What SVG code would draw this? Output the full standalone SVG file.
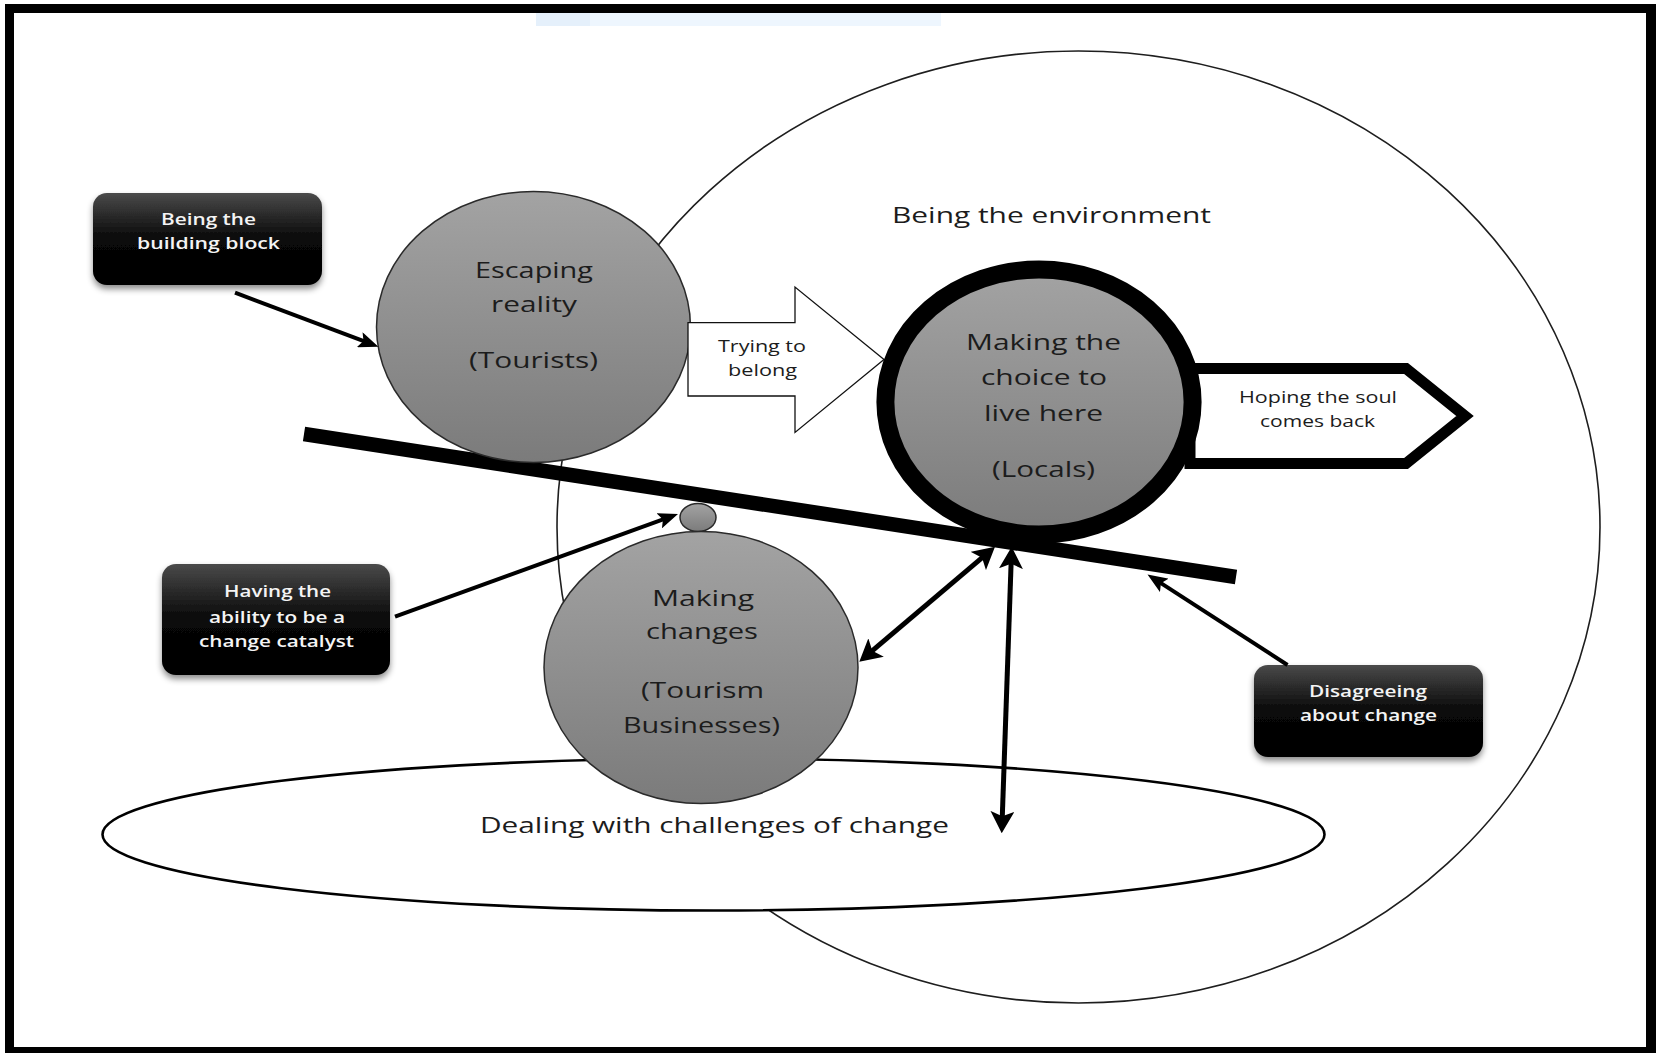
<svg xmlns="http://www.w3.org/2000/svg" width="1656" height="1053" viewBox="0 0 1656 1053">
  <defs>
    <linearGradient id="ballFill" x1="0" y1="0" x2="0" y2="1">
      <stop offset="0" stop-color="#a3a3a3"/>
      <stop offset="1" stop-color="#7b7b7b"/>
    </linearGradient>
    <linearGradient id="tagFill" x1="0" y1="0" x2="0" y2="1">
      <stop offset="0" stop-color="#4a4a4a"/>
      <stop offset="0.5" stop-color="#080808"/>
      <stop offset="1" stop-color="#000"/>
    </linearGradient>
    <filter id="tagShadow" x="-10%" y="-10%" width="120%" height="140%">
      <feDropShadow dx="0" dy="4" stdDeviation="3" flood-color="#000" flood-opacity="0.45"/>
    </filter>
    <marker id="headSmall" viewBox="0 0 20 16" refX="10" refY="8" markerWidth="20" markerHeight="16" markerUnits="userSpaceOnUse" orient="auto-start-reverse">
      <path d="M0,0 L20,8 L0,16 L4,8 z" fill="#000"/>
    </marker>
    <marker id="headBig" viewBox="0 0 22 24" refX="11" refY="12" markerWidth="22" markerHeight="24" markerUnits="userSpaceOnUse" orient="auto-start-reverse">
      <path d="M0,0 L22,12 L0,24 L5,12 z" fill="#000"/>
    </marker>
    <style>
      .ball { fill: url(#ballFill); stroke: #2a2a2a; stroke-width: 1.5; }
      .lbl { font-family: "Open Sans", "Noto Sans", sans-serif; font-size: 22px; fill: #1c1c1c; }
      .small { font-size: 16px; }
      .mid { font-size: 17px; }
      .tag { fill: url(#tagFill); filter: url(#tagShadow); }
      .tagtxt { font-family: "Open Sans", "Noto Sans", sans-serif; font-weight: 600; font-size: 17px; fill: #f4f4f4; }
      .link { fill: none; stroke: #000; stroke-width: 4; }
      .link2 { fill: none; stroke: #000; stroke-width: 5; }
    </style>
  </defs>

  <!-- page and frame -->
  <rect x="0" y="0" width="1656" height="1053" fill="#fff"/>
  <g id="frame" fill="#000">
    <rect x="5" y="4" width="1651" height="9"/>
    <rect x="5" y="4" width="9" height="1049"/>
    <rect x="1646" y="4" width="10" height="1049"/>
    <rect x="5" y="1047" width="1651" height="6"/>
  </g>
  <g id="snip-bar">
    <rect x="536" y="13" width="405" height="13" fill="#eef6fe"/>
    <rect x="536" y="13" width="54" height="13" fill="#e5f0fb"/>
  </g>

  <!-- outer region: being the environment -->
  <g id="environment">
    <ellipse cx="1078.5" cy="527" rx="521.5" ry="476" fill="none" stroke="#1e1e1e" stroke-width="1.6"/>
    <text class="lbl" x="892" y="223" font-size="23" textLength="319" lengthAdjust="spacingAndGlyphs">Being the environment</text>
  </g>

  <!-- lower region: dealing with challenges -->
  <g id="challenges">
    <ellipse cx="713.5" cy="834.5" rx="611" ry="76" fill="#fff" stroke="#000" stroke-width="2.6"/>
    <text class="lbl" x="480" y="833" textLength="469" lengthAdjust="spacingAndGlyphs">Dealing with challenges of change</text>
  </g>

  <!-- seesaw plank -->
  <g id="plank">
    <line x1="304" y1="434" x2="1236" y2="577" stroke="#000" stroke-width="14.5"/>
  </g>

  <!-- tourists -->
  <g id="tourists">
    <ellipse class="ball" cx="533.5" cy="327" rx="157" ry="135.5"/>
    <text class="lbl" x="475" y="278" textLength="118" lengthAdjust="spacingAndGlyphs">Escaping</text>
    <text class="lbl" x="491" y="312" textLength="86" lengthAdjust="spacingAndGlyphs">reality</text>
    <text class="lbl" x="469" y="368" textLength="129" lengthAdjust="spacingAndGlyphs">(Tourists)</text>
  </g>

  <!-- block arrow: trying to belong -->
  <g id="belong">
    <polygon points="688,322.7 795,322.7 795,287 884,359.5 795,432.5 795,396 688,396" fill="#fff" stroke="#111" stroke-width="1.3"/>
    <text class="lbl small" x="718" y="352" textLength="88" lengthAdjust="spacingAndGlyphs">Trying to</text>
    <text class="lbl small" x="728" y="376" textLength="69" lengthAdjust="spacingAndGlyphs">belong</text>
  </g>

  <!-- pentagon arrow: hoping the soul comes back -->
  <g id="soul">
    <polygon points="1190,368.5 1406,368.5 1465,416 1406,463.5 1190,463.5" fill="#fff" stroke="#000" stroke-width="11"/>
    <text class="lbl mid" x="1239" y="403" textLength="158" lengthAdjust="spacingAndGlyphs">Hoping the soul</text>
    <text class="lbl mid" x="1260" y="427" textLength="115" lengthAdjust="spacingAndGlyphs">comes back</text>
  </g>

  <!-- locals -->
  <g id="locals">
    <ellipse cx="1039" cy="402" rx="153.6" ry="132.5" fill="url(#ballFill)" stroke="#000" stroke-width="18"/>
    <text class="lbl" x="966" y="350" font-size="23" textLength="155" lengthAdjust="spacingAndGlyphs">Making the</text>
    <text class="lbl" x="981" y="385" font-size="23" textLength="126" lengthAdjust="spacingAndGlyphs">choice to</text>
    <text class="lbl" x="984" y="421" font-size="23" textLength="119" lengthAdjust="spacingAndGlyphs">live here</text>
    <text class="lbl" x="992" y="477" font-size="23" textLength="103" lengthAdjust="spacingAndGlyphs">(Locals)</text>
  </g>

  <!-- fulcrum -->
  <g id="fulcrum">
    <ellipse class="ball" cx="698" cy="517.5" rx="18" ry="14"/>
  </g>

  <!-- tourism businesses -->
  <g id="businesses">
    <ellipse class="ball" cx="701" cy="667.5" rx="157" ry="136"/>
    <text class="lbl" x="652" y="606" textLength="102" lengthAdjust="spacingAndGlyphs">Making</text>
    <text class="lbl" x="646" y="639" textLength="112" lengthAdjust="spacingAndGlyphs">changes</text>
    <text class="lbl" x="641" y="698" textLength="123" lengthAdjust="spacingAndGlyphs">(Tourism</text>
    <text class="lbl" x="623" y="733" textLength="157" lengthAdjust="spacingAndGlyphs">Businesses)</text>
  </g>

  <!-- callout tags -->
  <g id="tag-building-block">
    <rect class="tag" x="93" y="193" width="229" height="92" rx="14"/>
    <text class="tagtxt" x="161" y="225" textLength="95" lengthAdjust="spacingAndGlyphs">Being the</text>
    <text class="tagtxt" x="137" y="249" textLength="143" lengthAdjust="spacingAndGlyphs">building block</text>
  </g>
  <g id="tag-catalyst">
    <rect class="tag" x="162" y="564" width="228" height="111" rx="14"/>
    <text class="tagtxt" x="224" y="597" textLength="107" lengthAdjust="spacingAndGlyphs">Having the</text>
    <text class="tagtxt" x="209" y="623" textLength="136" lengthAdjust="spacingAndGlyphs">ability to be a</text>
    <text class="tagtxt" x="199" y="647" textLength="155" lengthAdjust="spacingAndGlyphs">change catalyst</text>
  </g>
  <g id="tag-disagreeing">
    <rect class="tag" x="1254" y="665" width="229" height="92" rx="14"/>
    <text class="tagtxt" x="1309" y="697" textLength="118" lengthAdjust="spacingAndGlyphs">Disagreeing</text>
    <text class="tagtxt" x="1300" y="721" textLength="137" lengthAdjust="spacingAndGlyphs">about change</text>
  </g>

  <!-- connectors -->
  <g id="connectors">
    <path class="link" d="M235,292.7 L369.1,343.2" marker-end="url(#headSmall)"/>
    <path class="link" d="M395,616.7 L668.6,517.4" marker-end="url(#headSmall)"/>
    <path class="link" d="M1287.5,665 L1155.9,579.9" marker-end="url(#headSmall)"/>
    <path class="link2" d="M867.7,654.6 L986.6,553.8" marker-start="url(#headBig)" marker-end="url(#headBig)"/>
    <path class="link2" d="M1011.3,557.7 L1002.1,822.3" marker-start="url(#headBig)" marker-end="url(#headBig)"/>
  </g>
</svg>
